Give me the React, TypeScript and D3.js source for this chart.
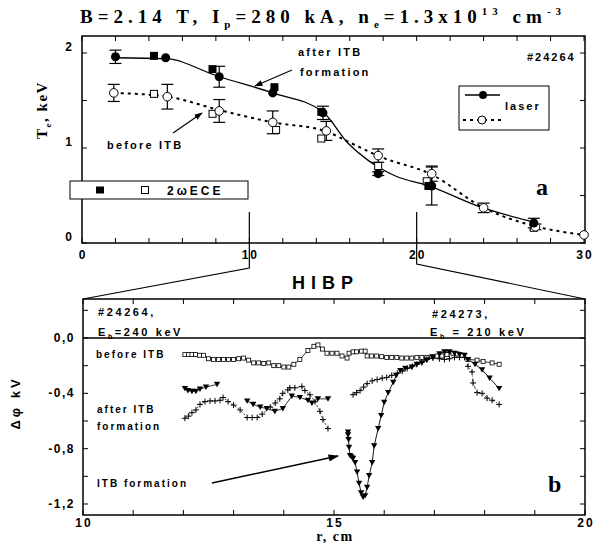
import React from 'react';
import * as d3 from 'd3';

// ---------- Top panel (T_e vs r) ----------
const xTicksTop = [0, 10, 20, 30];
const yTicksTop = [0, 1, 2];

const laserAfterR = [2.0, 5.0, 8.2, 11.4, 14.4, 17.7, 20.9, 27.0];
const laserAfterT = [1.96, 1.95, 1.75, 1.58, 1.37, 0.73, 0.60, 0.21];
const laserAfterErr = [0.07, 0, 0.11, 0, 0.07, 0.02, 0.2, 0.05];

const laserBeforeR = [1.9, 5.1, 8.2, 11.4, 14.6, 17.7, 20.9, 24.0, 27.1, 30.0];
const laserBeforeT = [1.58, 1.54, 1.39, 1.27, 1.18, 0.92, 0.73, 0.37, 0.17, 0.085];
const laserBeforeErr = [0.09, 0.13, 0.12, 0.12, 0.1, 0.07, 0.08, 0.05, 0.03, 0];

const eceAfterR = [4.3, 7.8, 11.5, 14.3, 20.7];
const eceAfterT = [1.97, 1.83, 1.64, 1.38, 0.60];
const eceBeforeR = [4.3, 7.8, 11.6, 14.3, 17.7, 20.6, 27.0];
const eceBeforeT = [1.57, 1.36, 1.19, 1.10, 0.81, 0.65, 0.16];

const fitAfterR = [2, 5, 8.2, 11.4, 14.4, 15.9, 17.1, 17.8, 18.8, 20.6, 23.8, 27];
const fitAfterT = [1.95, 1.94, 1.75, 1.58, 1.38, 1.05, 0.87, 0.79, 0.70, 0.61, 0.38, 0.22];
const fitBeforeR = [1.9, 5.1, 8.2, 11.4, 14.5, 16.1, 17.8, 20.9, 24, 27, 30];
const fitBeforeT = [1.58, 1.54, 1.40, 1.27, 1.18, 1.05, 0.91, 0.72, 0.37, 0.18, 0.085];

// ---------- Bottom panel (HIBP potential) ----------
const xTicksBot = [10, 15, 20];
const yTicksBot = [0, -0.4, -0.8, -1.2];
const yTickLabelsBot = ['0,0', '-0,4', '-0,8', '-1,2'];

const beforeR = [12.03, 12.1, 12.17, 12.24, 12.32, 12.4, 12.5, 12.6, 12.7, 12.8, 12.9, 13.0, 13.1, 13.2, 13.3, 13.4, 13.5, 13.6, 13.7, 13.8, 13.9, 14.0, 14.1, 14.2, 14.32, 14.48, 14.6, 14.68, 14.77, 14.86, 14.96, 15.06, 15.16, 15.26, 15.3, 15.38, 15.45, 15.55, 15.62, 15.66, 15.75, 15.85, 15.95, 16.05, 16.15, 16.25, 16.35, 16.45, 16.55, 16.65, 16.75, 16.85, 16.95, 17.05, 17.15, 17.25, 17.37, 17.46, 17.55, 17.67, 17.85, 17.97, 18.15, 18.29];
const beforeV = [-0.12, -0.12, -0.12, -0.12, -0.125, -0.125, -0.15, -0.155, -0.155, -0.155, -0.155, -0.155, -0.15, -0.145, -0.16, -0.18, -0.18, -0.185, -0.18, -0.2, -0.2, -0.21, -0.21, -0.19, -0.155, -0.09, -0.06, -0.05, -0.08, -0.11, -0.11, -0.11, -0.13, -0.145, -0.11, -0.1, -0.1, -0.095, -0.095, -0.13, -0.13, -0.13, -0.135, -0.14, -0.14, -0.14, -0.145, -0.145, -0.145, -0.14, -0.14, -0.14, -0.135, -0.13, -0.13, -0.12, -0.11, -0.115, -0.125, -0.155, -0.16, -0.17, -0.18, -0.19];

const triA1R = [12.03, 12.09, 12.17, 12.25, 12.33, 12.45, 12.67];
const triA1V = [-0.365, -0.38, -0.385, -0.385, -0.37, -0.355, -0.335];
const triA2R = [13.27, 13.39, 13.53, 13.66, 13.82, 13.98, 14.16, 14.32, 14.48, 14.56, 14.68, 14.88];
const triA2V = [-0.455, -0.48, -0.5, -0.51, -0.53, -0.51, -0.42, -0.43, -0.45, -0.47, -0.44, -0.44];

const crossAR = [12.03, 12.1, 12.17, 12.25, 12.33, 12.43, 12.53, 12.63, 12.73, 12.79, 12.89, 13.0, 13.13, 13.27, 13.37, 13.47, 13.57, 13.73, 13.83, 13.92, 13.98, 14.08, 14.12, 14.22, 14.36, 14.42, 14.52, 14.62, 14.72, 14.78, 14.88];
const crossAV = [-0.58, -0.565, -0.54, -0.52, -0.48, -0.46, -0.455, -0.455, -0.45, -0.43, -0.46, -0.485, -0.52, -0.575, -0.575, -0.575, -0.55, -0.5, -0.47, -0.44, -0.4, -0.375, -0.36, -0.36, -0.35, -0.38, -0.41, -0.46, -0.53, -0.59, -0.655];

const triBR = [15.28, 15.28, 15.29, 15.3, 15.32, 15.35, 15.38, 15.42, 15.46, 15.5, 15.54, 15.58, 15.62, 15.66, 15.7, 15.76, 15.8, 15.88, 15.94, 16.0, 16.08, 16.18, 16.24, 16.32, 16.42, 16.55, 16.65, 16.75, 16.85, 16.97, 17.1, 17.2, 17.3, 17.4, 17.5, 17.6, 17.67, 17.81, 17.95, 18.1, 18.29];
const triBV = [-0.68, -0.7, -0.735, -0.79, -0.85, -0.86, -0.87, -0.9, -0.97, -1.05, -1.12, -1.15, -1.14, -1.08, -0.995, -0.9, -0.78, -0.655, -0.56, -0.465, -0.395, -0.32, -0.27, -0.235, -0.22, -0.21, -0.19, -0.18, -0.16, -0.14, -0.115, -0.1, -0.1, -0.11, -0.12, -0.125, -0.155, -0.19, -0.23, -0.29, -0.365];

const crossBR = [15.38, 15.45, 15.52, 15.59, 15.66, 15.76, 15.86, 15.96, 16.05, 16.15, 16.26, 16.36, 16.46, 16.56, 16.65, 16.75, 16.85, 16.97, 17.1, 17.2, 17.3, 17.4, 17.5, 17.6, 17.67, 17.75, 17.77, 17.85, 17.95, 18.05, 18.15, 18.29];
const crossBV = [-0.41, -0.395, -0.38, -0.355, -0.33, -0.31, -0.3, -0.29, -0.285, -0.27, -0.255, -0.24, -0.22, -0.205, -0.19, -0.175, -0.155, -0.145, -0.15, -0.155, -0.15, -0.14, -0.14, -0.14, -0.205, -0.245, -0.325, -0.395, -0.4, -0.435, -0.45, -0.48];

const SANS = 'Liberation Sans, Arial, sans-serif';
const SERIF = 'Liberation Serif, Times New Roman, serif';

const zip = (a: number[], b: number[]) => a.map((v, i) => [v, b[i]] as [number, number]);

export default function App() {
  // scales
  const xT = d3.scaleLinear().domain([0, 30]).range([82, 584]);
  const yT = d3.scaleLinear().domain([0, 2]).range([243, 53]);
  const xB = d3.scaleLinear().domain([10, 20]).range([83, 585]);
  const yB = d3.scaleLinear().domain([0, -1.2]).range([338, 504]);

  const topL = 82, topR = 585, topTop = 36, topBot = 243;
  const botL = 83, botR = 585, botTop = 299, botBot = 515;

  const lineT = d3.line<[number, number]>().x(d => xT(d[0])).y(d => yT(d[1])).curve(d3.curveMonotoneX);
  const lineB = d3.line<[number, number]>().x(d => xB(d[0])).y(d => yB(d[1]));

  const tri = (cx: number, cy: number, s = 3.2) => `M${cx - s},${cy - s * 0.8}L${cx + s},${cy - s * 0.8}L${cx},${cy + s * 0.9}Z`;

  const tickLen = 5;
  const topXMinor = d3.range(0, 31, 2);
  const topYMinor = d3.range(0, 2.01, 0.5);
  const botXMinor = d3.range(10, 20.01, 1);
  const botYMinor = d3.range(0.2, -1.21, -0.2);

  const errBar = (r: number, t: number, e: number, key: string) => {
    if (!e) return null;
    const x = xT(r), y1 = yT(t + e), y2 = yT(t - e);
    return (
      <g key={key} stroke="#000" strokeWidth={1.2}>
        <line x1={x} x2={x} y1={y1} y2={y2} />
        <line x1={x - 6} x2={x + 6} y1={y1} y2={y1} />
        <line x1={x - 6} x2={x + 6} y1={y2} y2={y2} />
      </g>
    );
  };

  return (
    <svg width={594} height={543} style={{ position: 'absolute', left: 0, top: 0, background: '#fff' }}>
      <defs>
        <marker id="ah" viewBox="0 0 10 10" refX="9" refY="5" markerWidth="7" markerHeight="7" orient="auto">
          <path d="M0,1.5L10,5L0,8.5Z" fill="#000" />
        </marker>
      </defs>

      {/* Title */}
      <text x={80} y={23} fontFamily={SERIF} fontWeight="bold" fontSize={19} letterSpacing={5}>
        <tspan>B=2.14 T, I</tspan>
        <tspan fontSize={11} dy={5}>p</tspan>
        <tspan dy={-5}>=280 kA, n</tspan>
        <tspan fontSize={11} dy={5}>e</tspan>
        <tspan dy={-5}>=1.3x10</tspan>
        <tspan fontSize={11} dy={-8}>13</tspan>
        <tspan dy={8}> cm</tspan>
        <tspan fontSize={11} dy={-8}>-3</tspan>
      </text>

      {/* ===== Top panel ===== */}
      <rect x={topL} y={topTop} width={topR - topL} height={topBot - topTop} fill="none" stroke="#000" strokeWidth={1.5} />
      {topXMinor.map(v => (
        <g key={'tx' + v} stroke="#000" strokeWidth={1}>
          <line x1={xT(v)} x2={xT(v)} y1={topBot} y2={topBot - tickLen} />
          <line x1={xT(v)} x2={xT(v)} y1={topTop} y2={topTop + tickLen} />
        </g>
      ))}
      {topYMinor.map(v => (
        <g key={'ty' + v} stroke="#000" strokeWidth={1}>
          <line x1={topL} x2={topL + tickLen} y1={yT(v)} y2={yT(v)} />
          <line x1={topR} x2={topR - tickLen} y1={yT(v)} y2={yT(v)} />
        </g>
      ))}
      {xTicksTop.map(v => (
        <text key={'txl' + v} x={xT(v) + 1} y={259} textAnchor="middle" fontFamily={SANS} fontWeight="bold" fontSize={12} letterSpacing={2}>{v}</text>
      ))}
      {yTicksTop.map(v => (
        <text key={'tyl' + v} x={72} y={yT(v) - 2} textAnchor="end" fontFamily={SANS} fontWeight="bold" fontSize={12}>{v}</text>
      ))}
      <text transform="translate(47,110) rotate(-90)" textAnchor="middle" fontFamily={SERIF} fontWeight="bold" fontSize={15} letterSpacing={1.5}>
        <tspan>T</tspan><tspan fontSize={9} dy={4}>e</tspan><tspan dy={-4}>, keV</tspan>
      </text>

      {/* fits */}
      <path d={lineT(zip(fitAfterR, fitAfterT)) || ''} fill="none" stroke="#000" strokeWidth={1.3} />
      <path d={lineT(zip(fitBeforeR, fitBeforeT)) || ''} fill="none" stroke="#000" strokeWidth={2} strokeDasharray="3,4" />

      {/* error bars */}
      {laserAfterR.map((r, i) => errBar(r, laserAfterT[i], laserAfterErr[i], 'ea' + i))}
      {laserBeforeR.map((r, i) => errBar(r, laserBeforeT[i], laserBeforeErr[i], 'eb' + i))}

      {/* ECE squares */}
      {eceBeforeR.map((r, i) => (
        <rect key={'esb' + i} x={xT(r) - 3.5} y={yT(eceBeforeT[i]) - 3.5} width={7} height={7} fill="#fff" stroke="#000" strokeWidth={1} />
      ))}
      {eceAfterR.map((r, i) => (
        <rect key={'esa' + i} x={xT(r) - 4} y={yT(eceAfterT[i]) - 4} width={8} height={8} fill="#000" />
      ))}
      {/* laser circles */}
      {laserBeforeR.map((r, i) => (
        <circle key={'lb' + i} cx={xT(r)} cy={yT(laserBeforeT[i])} r={4.3} fill="#fff" stroke="#000" strokeWidth={1} />
      ))}
      {laserAfterR.map((r, i) => (
        <circle key={'la' + i} cx={xT(r)} cy={yT(laserAfterT[i])} r={4.5} fill="#000" />
      ))}

      {/* annotations top */}
      <text x={298} y={56} fontFamily={SANS} fontWeight="bold" fontSize={11} letterSpacing={2.2}>after ITB</text>
      <text x={300} y={76} fontFamily={SANS} fontWeight="bold" fontSize={11} letterSpacing={2.2}>formation</text>
      <line x1={292} y1={70} x2={255} y2={86} stroke="#000" strokeWidth={1.2} markerEnd="url(#ah)" />
      <text x={107} y={149} fontFamily={SANS} fontWeight="bold" fontSize={11} letterSpacing={2.2}>before ITB</text>
      <line x1={173} y1={133} x2={202} y2={113} stroke="#000" strokeWidth={1.2} markerEnd="url(#ah)" />
      <text x={527} y={61} fontFamily={SANS} fontWeight="bold" fontSize={11} letterSpacing={2}>#24264</text>
      <text x={536} y={195} fontFamily={SERIF} fontWeight="bold" fontSize={24}>a</text>

      {/* laser legend */}
      <rect x={459} y={86} width={90} height={44} fill="#fff" stroke="#000" strokeWidth={1} />
      <line x1={465} x2={500} y1={95} y2={95} stroke="#000" strokeWidth={1.3} />
      <circle cx={483} cy={95} r={4} fill="#000" />
      <text x={505} y={110} fontFamily={SANS} fontWeight="bold" fontSize={11} letterSpacing={2}>laser</text>
      <line x1={463} x2={502} y1={120} y2={120} stroke="#000" strokeWidth={2} strokeDasharray="3,4" />
      <circle cx={482} cy={120} r={4} fill="#fff" stroke="#000" strokeWidth={1} />

      {/* ECE legend */}
      <rect x={70} y={181} width={178} height={18} fill="#fff" stroke="#000" strokeWidth={1} />
      <rect x={96} y={186.5} width={8} height={7} fill="#000" />
      <rect x={141.5} y={186.5} width={7} height={7} fill="#fff" stroke="#000" strokeWidth={1} />
      <text x={167} y={195} fontFamily={SANS} fontWeight="bold" fontSize={12} letterSpacing={3}>2ωECE</text>

      {/* connectors */}
      <polyline points={`${xT(10)},212 ${xT(10)},268 ${botL},${botTop}`} fill="none" stroke="#000" strokeWidth={1.2} />
      <polyline points={`${xT(20)},212 ${xT(20)},264 ${botR},${botTop}`} fill="none" stroke="#000" strokeWidth={1.2} />
      <text x={292} y={289} fontFamily={SANS} fontWeight="bold" fontSize={18} letterSpacing={6}>HIBP</text>

      {/* ===== Bottom panel ===== */}
      <rect x={botL} y={botTop} width={botR - botL} height={botBot - botTop} fill="none" stroke="#000" strokeWidth={1.5} />
      <line x1={botL} x2={botR} y1={yB(0)} y2={yB(0)} stroke="#000" strokeWidth={1.5} />
      {botXMinor.map(v => (
        <g key={'bx' + v} stroke="#000" strokeWidth={1}>
          <line x1={xB(v)} x2={xB(v)} y1={botBot} y2={botBot - tickLen} />
          <line x1={xB(v)} x2={xB(v)} y1={botTop} y2={botTop + tickLen} />
        </g>
      ))}
      {botYMinor.map(v => (
        <g key={'by' + v} stroke="#000" strokeWidth={1}>
          <line x1={botL} x2={botL + tickLen} y1={yB(v)} y2={yB(v)} />
          <line x1={botR} x2={botR - tickLen} y1={yB(v)} y2={yB(v)} />
        </g>
      ))}
      {xTicksBot.map(v => (
        <text key={'bxl' + v} x={xB(v) + 1} y={527} textAnchor="middle" fontFamily={SANS} fontWeight="bold" fontSize={12} letterSpacing={2}>{v}</text>
      ))}
      {yTicksBot.map((v, i) => (
        <text key={'byl' + v} x={75} y={yB(v) + 4} textAnchor="end" fontFamily={SANS} fontWeight="bold" fontSize={12} letterSpacing={1.5}>{yTickLabelsBot[i]}</text>
      ))}
      <text x={335} y={541} textAnchor="middle" fontFamily={SERIF} fontWeight="bold" fontSize={14} letterSpacing={1.5}>r, cm</text>
      <text transform="translate(20,403) rotate(-90)" textAnchor="middle" fontFamily={SANS} fontWeight="bold" fontSize={13} letterSpacing={3}>Δφ kV</text>

      {/* series lines */}
      <path d={lineB(zip(beforeR, beforeV)) || ''} fill="none" stroke="#000" strokeWidth={0.8} />
      <path d={lineB(zip(triA1R, triA1V)) || ''} fill="none" stroke="#000" strokeWidth={0.8} />
      <path d={lineB(zip(triA2R, triA2V)) || ''} fill="none" stroke="#000" strokeWidth={0.8} />
      <path d={lineB(zip(crossAR, crossAV)) || ''} fill="none" stroke="#000" strokeWidth={0.8} strokeDasharray="2,2" />
      <path d={lineB(zip(triBR, triBV)) || ''} fill="none" stroke="#000" strokeWidth={0.9} />
      <path d={lineB(zip(crossBR, crossBV)) || ''} fill="none" stroke="#000" strokeWidth={0.8} strokeDasharray="3,2,1,2" />

      {/* markers */}
      {beforeR.map((r, i) => (
        <rect key={'bs' + i} x={xB(r) - 2} y={yB(beforeV[i]) - 2} width={4} height={4} fill="#fff" stroke="#000" strokeWidth={0.8} />
      ))}
      {crossAR.map((r, i) => (
        <path key={'ca' + i} d={`M${xB(r) - 3},${yB(crossAV[i])}h6M${xB(r)},${yB(crossAV[i]) - 3}v6`} stroke="#000" strokeWidth={1} />
      ))}
      {crossBR.map((r, i) => (
        <path key={'cb' + i} d={`M${xB(r) - 3},${yB(crossBV[i])}h6M${xB(r)},${yB(crossBV[i]) - 3}v6`} stroke="#000" strokeWidth={1} />
      ))}
      {triA1R.map((r, i) => <path key={'ta1' + i} d={tri(xB(r), yB(triA1V[i]))} fill="#000" />)}
      {triA2R.map((r, i) => <path key={'ta2' + i} d={tri(xB(r), yB(triA2V[i]))} fill="#000" />)}
      {triBR.map((r, i) => <path key={'tb' + i} d={tri(xB(r), yB(triBV[i]))} fill="#000" />)}

      {/* annotations bottom */}
      <text x={98} y={316} fontFamily={SANS} fontWeight="bold" fontSize={11} letterSpacing={2.6}>#24264,</text>
      <text x={98} y={336} fontFamily={SANS} fontWeight="bold" fontSize={11} letterSpacing={2.6}>
        <tspan>E</tspan><tspan fontSize={7} dy={3}>b</tspan><tspan dy={-3}>=240 keV</tspan>
      </text>
      <text x={432} y={318} fontFamily={SANS} fontWeight="bold" fontSize={11} letterSpacing={2.6}>#24273,</text>
      <text x={430} y={336} fontFamily={SANS} fontWeight="bold" fontSize={11} letterSpacing={2.6}>
        <tspan>E</tspan><tspan fontSize={7} dy={3}>b</tspan><tspan dy={-3}> = 210 keV</tspan>
      </text>
      <text x={96} y={358} fontFamily={SANS} fontWeight="bold" fontSize={10} letterSpacing={2}>before ITB</text>
      <text x={97} y={413} fontFamily={SANS} fontWeight="bold" fontSize={10} letterSpacing={2}>after ITB</text>
      <text x={97} y={430} fontFamily={SANS} fontWeight="bold" fontSize={10} letterSpacing={2}>formation</text>
      <text x={97} y={487} fontFamily={SANS} fontWeight="bold" fontSize={10} letterSpacing={2}>ITB formation</text>
      <line x1={212} y1={483} x2={338} y2={456} stroke="#000" strokeWidth={1.5} markerEnd="url(#ah)" />
      <text x={548} y={492} fontFamily={SERIF} fontWeight="bold" fontSize={24}>b</text>
    </svg>
  );
}
